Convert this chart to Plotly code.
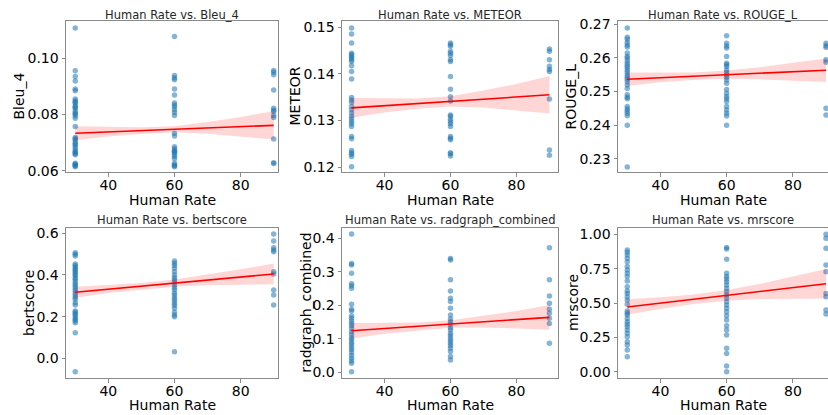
import plotly.graph_objects as go

# ---------------- data ----------------
x_levels = [30, 60, 90]
ci_x = [30, 40, 50, 60, 70, 80, 90]

bleu_30 = [0.1107, 0.0955, 0.0935, 0.0919, 0.0890, 0.0884, 0.0855, 0.0848, 0.0843, 0.0840,
           0.0830, 0.0826, 0.0822, 0.0812, 0.0805, 0.0801, 0.0795, 0.0786, 0.0757, 0.0718,
           0.0713, 0.0709, 0.0700, 0.0695, 0.0690, 0.0682, 0.0674, 0.0668, 0.0664, 0.0660,
           0.0656, 0.0626, 0.0623, 0.0620, 0.0617, 0.0614]
bleu_60 = [0.1077, 0.0938, 0.0929, 0.0923, 0.0890, 0.0869, 0.0840, 0.0833, 0.0826, 0.0816,
           0.0807, 0.0796, 0.0733, 0.0723, 0.0685, 0.0678, 0.0671, 0.0668, 0.0664, 0.0657,
           0.0650, 0.0642, 0.0626, 0.0620, 0.0617, 0.0614]
bleu_90 = [0.0956, 0.0950, 0.0941, 0.0887, 0.0822, 0.0815, 0.0810, 0.0796, 0.0789, 0.0712,
           0.0628, 0.0625]
bleu_fit = [0.0733, 0.0761]
bleu_ci_lo = [0.0708, 0.0721, 0.0730, 0.0736, 0.0731, 0.0721, 0.0711]
bleu_ci_hi = [0.0758, 0.0755, 0.0754, 0.0758, 0.0773, 0.0791, 0.0811]

meteor_30 = [0.1498, 0.1485, 0.1466, 0.1444, 0.1441, 0.1437, 0.1434, 0.1430, 0.1426, 0.1417,
             0.1405, 0.1389, 0.1349, 0.1344, 0.1339, 0.1330, 0.1323, 0.1316, 0.1309, 0.1304,
             0.1298, 0.1293, 0.1287, 0.1266, 0.1261, 0.1236, 0.1231, 0.1228, 0.1223, 0.1201]
meteor_60 = [0.1466, 0.1462, 0.1459, 0.1448, 0.1444, 0.1439, 0.1430, 0.1426, 0.1394, 0.1367,
             0.1351, 0.1342, 0.1312, 0.1309, 0.1303, 0.1298, 0.1293, 0.1287, 0.1266, 0.1262,
             0.1259, 0.1231, 0.1229, 0.1224]
meteor_90 = [0.1453, 0.1448, 0.1430, 0.1416, 0.1409, 0.1405, 0.1346, 0.1237, 0.1226]
meteor_fit = [0.1327, 0.1355]
meteor_ci_lo = [0.1306, 0.1317, 0.1325, 0.1330, 0.1328, 0.1322, 0.1315]
meteor_ci_hi = [0.1348, 0.1347, 0.1347, 0.1352, 0.1364, 0.1378, 0.1395]

rouge_30 = [0.2688, 0.2661, 0.2655, 0.2645, 0.2638, 0.2632, 0.2614, 0.2604, 0.2599, 0.2591,
            0.2584, 0.2577, 0.2571, 0.2564, 0.2557, 0.2549, 0.2542, 0.2536, 0.2529, 0.2519,
            0.2509, 0.2490, 0.2483, 0.2478, 0.2455, 0.2448, 0.2442, 0.2435, 0.2428, 0.2400,
            0.2276]
rouge_60 = [0.2665, 0.2643, 0.2635, 0.2629, 0.2604, 0.2584, 0.2579, 0.2574, 0.2564, 0.2556,
            0.2549, 0.2542, 0.2534, 0.2524, 0.2506, 0.2495, 0.2485, 0.2478, 0.2470, 0.2455,
            0.2445, 0.2435, 0.2427, 0.2400]
rouge_90 = [0.2643, 0.2636, 0.2631, 0.2594, 0.2587, 0.2450, 0.2430]
rouge_fit = [0.2536, 0.2563]
rouge_ci_lo = [0.2516, 0.2527, 0.2534, 0.2538, 0.2536, 0.2533, 0.2528]
rouge_ci_hi = [0.2556, 0.2555, 0.2556, 0.2562, 0.2572, 0.2585, 0.2598]

bert_30 = [0.507, 0.499, 0.491, 0.453, 0.445, 0.437, 0.429, 0.421, 0.413, 0.405, 0.397, 0.387,
           0.379, 0.368, 0.357, 0.347, 0.336, 0.325, 0.315, 0.304, 0.293, 0.283, 0.267, 0.256,
           0.227, 0.221, 0.213, 0.205, 0.195, 0.187, 0.179, 0.171, 0.123, -0.064]
bert_60 = [0.467, 0.456, 0.445, 0.432, 0.416, 0.400, 0.387, 0.376, 0.365, 0.352, 0.339, 0.328,
           0.312, 0.301, 0.288, 0.277, 0.264, 0.253, 0.240, 0.221, 0.208, 0.200, 0.032]
bert_90 = [0.597, 0.563, 0.531, 0.520, 0.512, 0.416, 0.405, 0.328, 0.304, 0.256]
bert_fit = [0.317, 0.405]
bert_ci_lo = [0.291, 0.313, 0.330, 0.344, 0.351, 0.353, 0.355]
bert_ci_hi = [0.343, 0.351, 0.362, 0.378, 0.401, 0.427, 0.455]

radgraph_30 = [0.413, 0.325, 0.320, 0.296, 0.264, 0.258, 0.251, 0.203, 0.188, 0.183, 0.168,
               0.161, 0.153, 0.146, 0.139, 0.131, 0.121, 0.113, 0.103, 0.097, 0.089, 0.082,
               0.074, 0.067, 0.059, 0.050, 0.042, 0.034, 0.027, 0.002]
radgraph_60 = [0.340, 0.335, 0.276, 0.243, 0.221, 0.211, 0.191, 0.171, 0.159, 0.151, 0.143,
               0.133, 0.126, 0.116, 0.109, 0.101, 0.094, 0.087, 0.080, 0.072, 0.062, 0.047,
               0.037]
radgraph_90 = [0.372, 0.276, 0.228, 0.206, 0.188, 0.176, 0.161, 0.146, 0.087]
radgraph_fit = [0.124, 0.164]
radgraph_ci_lo = [0.101, 0.115, 0.125, 0.133, 0.134, 0.131, 0.127]
radgraph_ci_hi = [0.147, 0.147, 0.149, 0.155, 0.168, 0.183, 0.201]

mr_30 = [0.886, 0.869, 0.850, 0.825, 0.801, 0.765, 0.740, 0.716, 0.692, 0.660, 0.619, 0.587,
         0.570, 0.546, 0.522, 0.490, 0.442, 0.425, 0.413, 0.388, 0.364, 0.345, 0.328, 0.303,
         0.279, 0.255, 0.218, 0.194, 0.158, 0.109]
mr_60 = [0.903, 0.893, 0.818, 0.716, 0.692, 0.675, 0.655, 0.631, 0.607, 0.583, 0.558, 0.534,
         0.510, 0.485, 0.461, 0.437, 0.408, 0.376, 0.335, 0.303, 0.267, 0.170, 0.133, 0.041,
         0.000]
mr_90 = [1.000, 0.971, 0.898, 0.777, 0.728, 0.570, 0.546, 0.449, 0.420]
mr_fit = [0.471, 0.640]
mr_ci_lo = [0.414, 0.457, 0.492, 0.517, 0.529, 0.532, 0.533]
mr_ci_hi = [0.528, 0.541, 0.562, 0.595, 0.639, 0.692, 0.747]

metric_names = ["Bleu_4", "METEOR", "ROUGE_L", "bertscore", "radgraph_combined", "mrscore"]
x_label = "Human Rate"

series = [
    ((bleu_30, bleu_60, bleu_90), bleu_fit, bleu_ci_lo, bleu_ci_hi),
    ((meteor_30, meteor_60, meteor_90), meteor_fit, meteor_ci_lo, meteor_ci_hi),
    ((rouge_30, rouge_60, rouge_90), rouge_fit, rouge_ci_lo, rouge_ci_hi),
    ((bert_30, bert_60, bert_90), bert_fit, bert_ci_lo, bert_ci_hi),
    ((radgraph_30, radgraph_60, radgraph_90), radgraph_fit, radgraph_ci_lo, radgraph_ci_hi),
    ((mr_30, mr_60, mr_90), mr_fit, mr_ci_lo, mr_ci_hi),
]

# ---------------- layout geometry ----------------
W, H = 828, 415
col_px = [(66, 278), (342, 558), (618, 828)]
row_px = [(20.7, 172.3), (227.7, 378.3)]
x_ranges = [[27.2, 91.3], [27.1, 92.6], [27.2, 90.6]]
y_ranges = [[0.0594, 0.1133], [0.11893, 0.15135], [0.2260, 0.2710],
            [-0.096, 0.627], [-0.0179, 0.4316], [-0.048, 1.048]]
y_ticks = [dict(tick0=0.06, dtick=0.02, tickformat=".2f"),
           dict(tick0=0.12, dtick=0.01, tickformat=".2f"),
           dict(tick0=0.23, dtick=0.01, tickformat=".2f"),
           dict(tick0=0.0, dtick=0.2, tickformat=".1f"),
           dict(tick0=0.0, dtick=0.1, tickformat=".1f"),
           dict(tick0=0.0, dtick=0.25, tickformat=".2f")]
ylabel_px = [19, 295, 571, 29, 305.7, 573]
title_y_px = [15, 220]
xlabel_y_px = [200, 405]

FONT = "DejaVu Sans"
SPINE = "#8a8a8a"
DOT = "rgba(31,119,180,0.55)"

fig = go.Figure()
annotations = []

for i, name in enumerate(metric_names):
    r, c = divmod(i, 3)
    k = i + 1
    xa = "x" if k == 1 else f"x{k}"
    ya = "y" if k == 1 else f"y{k}"
    pts, fit, lo, hi = series[i]

    xs, ys = [], []
    for lvl, vals in zip(x_levels, pts):
        xs += [lvl] * len(vals)
        ys += list(vals)

    fig.add_trace(go.Scatter(x=xs, y=ys, mode="markers", xaxis=xa, yaxis=ya,
                             marker=dict(size=5.5, color=DOT, line=dict(width=0)),
                             showlegend=False, hoverinfo="skip"))
    fig.add_trace(go.Scatter(x=ci_x + ci_x[::-1], y=hi + lo[::-1], mode="lines",
                             fill="toself", fillcolor="rgba(255,0,0,0.16)",
                             line=dict(width=0), xaxis=xa, yaxis=ya,
                             showlegend=False, hoverinfo="skip"))
    fig.add_trace(go.Scatter(x=[x_levels[0], x_levels[-1]], y=fit, mode="lines",
                             line=dict(color="#ff0000", width=1.6), xaxis=xa, yaxis=ya,
                             showlegend=False, hoverinfo="skip"))

    x0, x1 = col_px[c]
    y0, y1 = row_px[r]
    axis_common = dict(showline=True, mirror=True, linecolor=SPINE, linewidth=1,
                       ticks="outside", ticklen=3.5, tickwidth=1, tickcolor=SPINE,
                       showgrid=False, zeroline=False, automargin=False,
                       tickfont=dict(family=FONT, size=14, color="#000000"))
    fig.layout["xaxis" if k == 1 else f"xaxis{k}"] = dict(
        domain=[x0 / W, x1 / W], range=x_ranges[c], anchor=ya,
        tick0=40, dtick=20, ticklabelstandoff=-4, **axis_common)
    fig.layout["yaxis" if k == 1 else f"yaxis{k}"] = dict(
        domain=[1 - y1 / H, 1 - y0 / H], range=y_ranges[i], anchor=xa,
        tickmode="linear", **y_ticks[i], **axis_common)

    cx = (x0 + x1) / 2 / W
    annotations.append(dict(text=f"{x_label} vs. {name}", x=cx, y=1 - title_y_px[r] / H,
                            xref="paper", yref="paper", showarrow=False,
                            xanchor="center", yanchor="middle",
                            font=dict(family=FONT, size=11.5, color="#262626")))
    annotations.append(dict(text=x_label, x=cx, y=1 - xlabel_y_px[r] / H,
                            xref="paper", yref="paper", showarrow=False,
                            xanchor="center", yanchor="middle",
                            font=dict(family=FONT, size=14, color="#000000")))
    annotations.append(dict(text=name, x=ylabel_px[i] / W, y=1 - (y0 + y1) / 2 / H,
                            xref="paper", yref="paper", showarrow=False, textangle=-90,
                            xanchor="center", yanchor="middle",
                            font=dict(family=FONT, size=14, color="#000000")))

fig.update_layout(width=W, height=H, margin=dict(l=0, r=0, t=0, b=0),
                  paper_bgcolor="white", plot_bgcolor="white", hovermode=False,
                  annotations=annotations, font=dict(family=FONT))

fig.write_html("out.html", config={"displayModeBar": False, "staticPlot": True},
               post_script="document.body.style.margin='0px';document.body.style.overflow='hidden';")
